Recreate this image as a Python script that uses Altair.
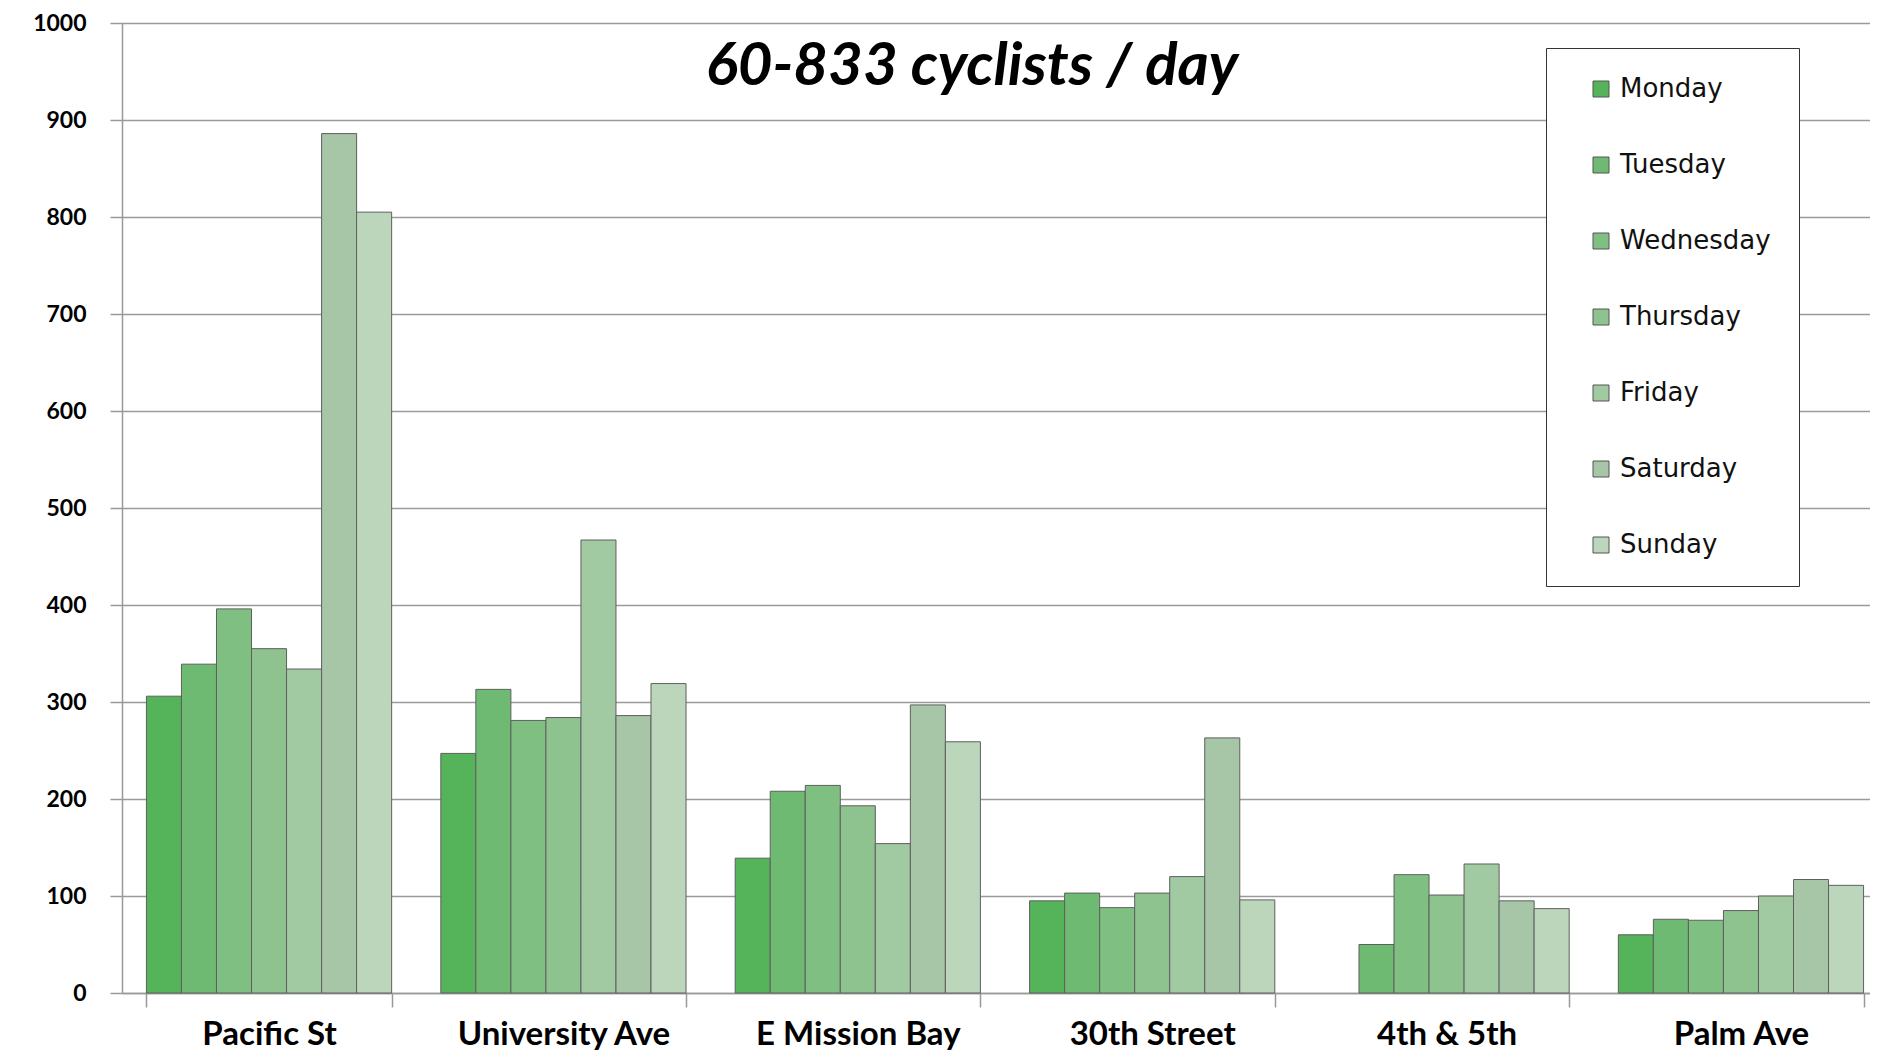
import altair as alt
import pandas as pd

sites = ["Pacific St", "University Ave", "E Mission Bay", "30th Street", "4th & 5th", "Palm Ave"]
days = ["Monday", "Tuesday", "Wednesday", "Thursday", "Friday", "Saturday", "Sunday"]

pacific = [306, 339, 396, 355, 334, 886, 805]
university = [247, 313, 281, 284, 467, 286, 319]
mission = [139, 208, 214, 193, 154, 297, 259]
thirtieth = [95, 103, 88, 103, 120, 263, 96]
fourth_fifth = [None, 50, 122, 101, 133, 95, 87]
palm = [60, 76, 75, 85, 100, 117, 111]

colors = ["#55b35a", "#6fba72", "#7fc082", "#8ec38f", "#a2caa2", "#a7c5a7", "#bcd6bc"]

series = [pacific, university, mission, thirtieth, fourth_fifth, palm]
rows = []
for site, vals in zip(sites, series):
    for day, v in zip(days, vals):
        if v is not None:
            rows.append({"site": site, "day": day, "count": v})
df = pd.DataFrame(rows)

title_df = pd.DataFrame({"t": ["60-833 cyclists / day"]})

bars = alt.Chart(df).mark_bar(stroke="#5f5f5f", strokeWidth=1).encode(
    x=alt.X("site:N", sort=sites,
            scale=alt.Scale(paddingInner=0.167, paddingOuter=0.083, range=[0, 1766]),
            axis=alt.Axis(title=None, labelAngle=0, labelFont="Lato", labelFontWeight="bold",
                          labelFontSize=33, labelColor="black", tickBand="extent", tickSize=14,
                          tickColor="#999999", tickWidth=1.5, domainColor="#999999", domainWidth=1.5,
                          labelBaseline="middle", labelPadding=27, labelLimit=0, grid=False)),
    xOffset=alt.XOffset("day:N", sort=days, scale=alt.Scale(paddingInner=0, paddingOuter=0)),
    y=alt.Y("count:Q", scale=alt.Scale(domain=[0, 1000], nice=False),
            axis=alt.Axis(title=None, values=list(range(0, 1001, 100)), format="d", labelFont="Lato",
                          labelFontWeight="bold", labelFontSize=23, labelColor="black",
                          tickSize=12, tickColor="#999999", tickWidth=1.5, labelPadding=24,
                          domainColor="#999999", domainWidth=1.5, gridColor="#9a9a9a",
                          gridWidth=1.5)),
    color=alt.Color("day:N", sort=days, scale=alt.Scale(domain=days, range=colors),
                    legend=alt.Legend(title=None, orient="none", legendX=1424, legendY=25,
                                      strokeColor="#333333", fillColor="white", padding=28,
                                      labelFont="DejaVu Sans", labelFontSize=26, labelColor="#111111",
                                      symbolType="square", symbolSize=256, symbolStrokeColor="#555555",
                                      symbolStrokeWidth=1, symbolOpacity=1, rowPadding=50,
                                      labelOffset=6, symbolOffset=14)),
)

title = alt.Chart(title_df).mark_text(font="Lato", fontStyle="italic", fontWeight="bold",
                                      fontSize=60, color="black").encode(
    text="t:N", x=alt.value(850), y=alt.value(44)
)

chart = alt.layer(bars, title).properties(
    width=1748, height=970,
    autosize=alt.AutoSizeParams(type="none"),
    padding={"left": 114, "top": 15, "right": 0, "bottom": 60},
).configure_view(stroke=None)

chart.save("out.html", embed_options={"renderer": "svg", "actions": False})
